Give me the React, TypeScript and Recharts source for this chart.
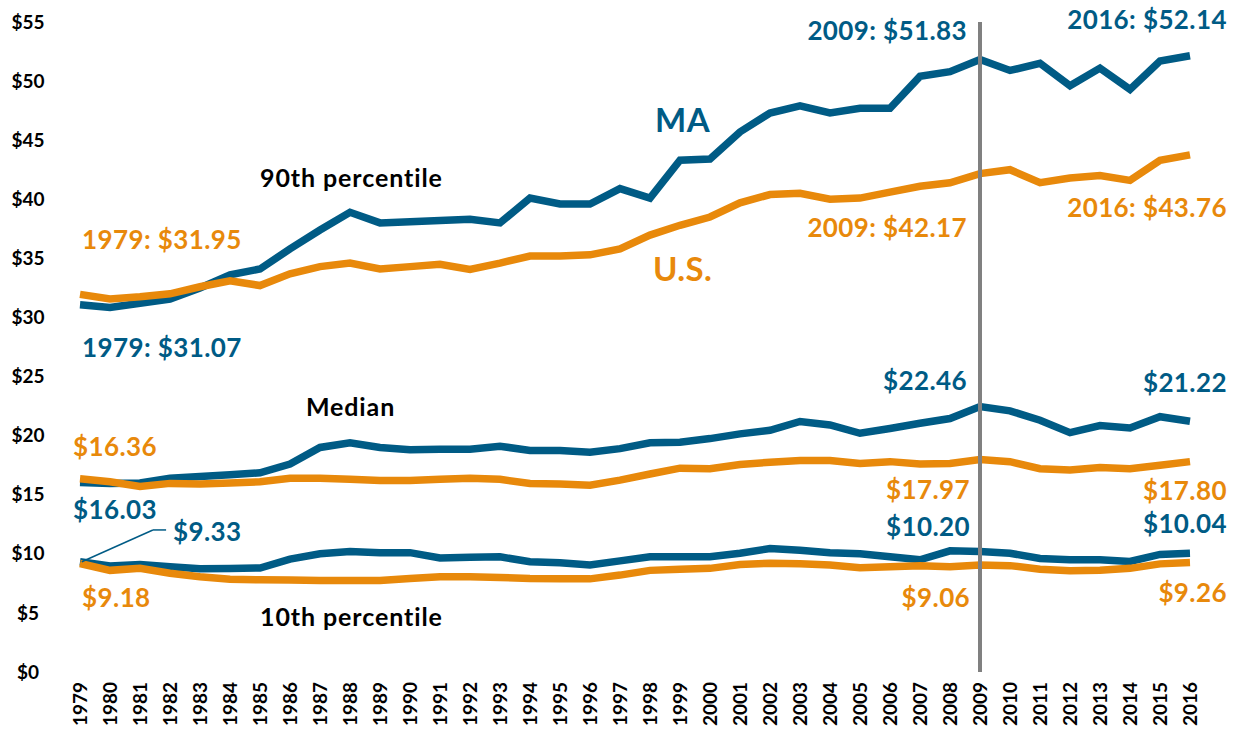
import React from 'react';
import { LineChart, Line, XAxis, YAxis, ReferenceLine, ReferenceDot } from 'recharts';

const years = [
  1979, 1980, 1981, 1982, 1983, 1984, 1985, 1986, 1987, 1988, 1989, 1990, 1991,
  1992, 1993, 1994, 1995, 1996, 1997, 1998, 1999, 2000, 2001, 2002, 2003, 2004,
  2005, 2006, 2007, 2008, 2009, 2010, 2011, 2012, 2013, 2014, 2015, 2016,
];

// hourly wages, MA vs U.S.
const ma90 = [
  31.07, 30.85, 31.2, 31.55, 32.5, 33.6, 34.1, 35.8, 37.4, 38.9, 38.0, 38.1, 38.2,
  38.3, 38.0, 40.1, 39.6, 39.6, 40.9, 40.1, 43.3, 43.4, 45.7, 47.3, 47.9, 47.3,
  47.7, 47.7, 50.4, 50.8, 51.83, 50.9, 51.5, 49.6, 51.1, 49.3, 51.7, 52.14,
];
const us90 = [
  31.95, 31.56, 31.75, 32.0, 32.6, 33.1, 32.7, 33.7, 34.3, 34.6, 34.1, 34.3, 34.5,
  34.07, 34.6, 35.2, 35.2, 35.3, 35.8, 36.97, 37.8, 38.5, 39.7, 40.4, 40.5, 40.0,
  40.1, 40.6, 41.1, 41.4, 42.17, 42.5, 41.4, 41.8, 42.0, 41.6, 43.3, 43.76,
];
const maMedian = [
  16.03, 15.95, 16.0, 16.4, 16.55, 16.7, 16.85, 17.6, 19.0, 19.4, 19.0, 18.8, 18.85,
  18.85, 19.1, 18.75, 18.75, 18.6, 18.9, 19.4, 19.45, 19.75, 20.15, 20.45, 21.2, 20.9,
  20.2, 20.6, 21.05, 21.45, 22.46, 22.1, 21.3, 20.25, 20.85, 20.65, 21.6, 21.22,
];
const usMedian = [
  16.36, 16.1, 15.7, 15.96, 15.9, 16.0, 16.1, 16.4, 16.4, 16.3, 16.2, 16.2, 16.3,
  16.4, 16.3, 15.96, 15.9, 15.8, 16.24, 16.75, 17.25, 17.2, 17.55, 17.75, 17.9, 17.9,
  17.65, 17.8, 17.6, 17.65, 17.97, 17.8, 17.2, 17.1, 17.3, 17.2, 17.5, 17.8,
];
const ma10 = [
  9.33, 8.97, 9.1, 8.9, 8.74, 8.75, 8.8, 9.55, 10.0, 10.2, 10.1, 10.1, 9.65,
  9.7, 9.75, 9.33, 9.25, 9.05, 9.4, 9.75, 9.75, 9.75, 10.05, 10.45, 10.3, 10.1,
  10.0, 9.75, 9.5, 10.25, 10.2, 10.05, 9.6, 9.5, 9.5, 9.35, 9.95, 10.04,
];
const us10 = [
  9.18, 8.6, 8.77, 8.35, 8.06, 7.85, 7.8, 7.78, 7.75, 7.75, 7.75, 7.92, 8.05,
  8.05, 8.0, 7.92, 7.9, 7.88, 8.2, 8.6, 8.7, 8.77, 9.1, 9.2, 9.15, 9.05,
  8.83, 8.9, 9.0, 8.9, 9.06, 9.0, 8.7, 8.57, 8.6, 8.77, 9.15, 9.26,
];

const yTicks = [0, 5, 10, 15, 20, 25, 30, 35, 40, 45, 50, 55];

const BLUE = '#005b85';
const ORANGE = '#e8890b';
const FONT = 'Lato, "Open Sans", sans-serif';

const data = years.map((year, i) => ({
  year,
  ma90: ma90[i],
  us90: us90[i],
  maMedian: maMedian[i],
  usMedian: usMedian[i],
  ma10: ma10[i],
  us10: us10[i],
}));

// text notes, placed in chart coordinates (year, dollars)
const notes = [
  { text: '2009: $51.83', x: 2008.57, y: 53.48, anchor: 'end', color: BLUE, size: 26 },
  { text: '2016: $52.14', x: 2017.23, y: 54.41, anchor: 'end', color: BLUE, size: 26 },
  { text: 'MA', x: 1998.17, y: 45.69, anchor: 'start', color: BLUE, size: 33 },
  { text: '90th percentile', x: 1985.0, y: 41.04, anchor: 'start', color: '#000', size: 25, spacing: 0.9 },
  { text: '1979: $31.95', x: 1979.07, y: 35.79, anchor: 'start', color: ORANGE, size: 26 },
  { text: '2009: $42.17', x: 2008.57, y: 36.81, anchor: 'end', color: ORANGE, size: 26 },
  { text: '2016: $43.76', x: 2017.23, y: 38.5, anchor: 'end', color: ORANGE, size: 26 },
  { text: 'U.S.', x: 1998.1, y: 33.08, anchor: 'start', color: ORANGE, size: 33 },
  { text: '1979: $31.07', x: 1979.07, y: 26.65, anchor: 'start', color: BLUE, size: 26 },
  { text: 'Median', x: 1986.53, y: 21.66, anchor: 'start', color: '#000', size: 25, spacing: 0.9 },
  { text: '$16.36', x: 1978.77, y: 18.28, anchor: 'start', color: ORANGE, size: 26 },
  { text: '$16.03', x: 1978.77, y: 12.95, anchor: 'start', color: BLUE, size: 26 },
  { text: '$9.33', x: 1982.1, y: 11.08, anchor: 'start', color: BLUE, size: 26 },
  { text: '$9.18', x: 1979.07, y: 5.5, anchor: 'start', color: ORANGE, size: 26 },
  { text: '10th percentile', x: 1985.0, y: 3.89, anchor: 'start', color: '#000', size: 25, spacing: 0.9 },
  { text: '$22.46', x: 2008.57, y: 23.86, anchor: 'end', color: BLUE, size: 26 },
  { text: '$21.22', x: 2017.23, y: 23.69, anchor: 'end', color: BLUE, size: 26 },
  { text: '$17.97', x: 2008.67, y: 14.64, anchor: 'end', color: ORANGE, size: 26 },
  { text: '$17.80', x: 2017.23, y: 14.55, anchor: 'end', color: ORANGE, size: 26 },
  { text: '$10.20', x: 2008.67, y: 11.51, anchor: 'end', color: BLUE, size: 26 },
  { text: '$10.04', x: 2017.23, y: 11.76, anchor: 'end', color: BLUE, size: 26 },
  { text: '$9.06', x: 2008.67, y: 5.5, anchor: 'end', color: ORANGE, size: 26 },
  { text: '$9.26', x: 2017.23, y: 5.92, anchor: 'end', color: ORANGE, size: 26 },
];

const YTick = (props: any) => (
  <text x={28} y={props.y} dy="0.35em" textAnchor="middle" fontFamily={FONT} fontWeight={700} fontSize={19} fill="#000">
    {'$' + props.payload.value}
  </text>
);

const XTick = (props: any) => {
  const x = props.x;
  const y = 682;
  return (
    <text
      x={x}
      y={y}
      dy="0.35em"
      textAnchor="end"
      transform={`rotate(-90, ${x}, ${y})`}
      fontFamily={FONT}
      fontWeight={700}
      fontSize={19}
      fill="#000"
    >
      {props.payload.value}
    </text>
  );
};

const noteContent = (n: any) => (props: any) => {
  const vb = props.viewBox || {};
  return (
    <text
      x={vb.x}
      y={vb.y}
      textAnchor={n.anchor}
      fill={n.color}
      fontSize={n.size}
      fontWeight={700}
      fontFamily={FONT}
      letterSpacing={n.spacing ?? 0.4}
    >
      {n.text}
    </text>
  );
};

export default function App() {
  return (
    <div style={{ position: 'absolute', left: 0, top: 0, width: 1237, height: 734, background: '#fff' }}>
      <LineChart width={1237} height={734} data={data} margin={{ top: 22, right: 47, bottom: 0, left: 0 }}>
        <XAxis
          dataKey="year"
          type="number"
          domain={[1979, 2016]}
          ticks={years}
          interval={0}
          height={62}
          axisLine={false}
          tickLine={false}
          tick={<XTick />}
        />
        <YAxis
          domain={[0, 55]}
          ticks={yTicks}
          width={80}
          axisLine={false}
          tickLine={false}
          tick={<YTick />}
        />
        <Line dataKey="ma90" stroke={BLUE} strokeWidth={7.5} dot={false} isAnimationActive={false} />
        <Line dataKey="us90" stroke={ORANGE} strokeWidth={7.5} dot={false} isAnimationActive={false} />
        <Line dataKey="maMedian" stroke={BLUE} strokeWidth={7.5} dot={false} isAnimationActive={false} />
        <Line dataKey="usMedian" stroke={ORANGE} strokeWidth={7.5} dot={false} isAnimationActive={false} />
        <Line dataKey="ma10" stroke={BLUE} strokeWidth={7.5} dot={false} isAnimationActive={false} />
        <Line dataKey="us10" stroke={ORANGE} strokeWidth={7.5} dot={false} isAnimationActive={false} />
        <ReferenceLine x={2009} stroke="#808080" strokeWidth={4} />
        <ReferenceLine
          segment={[{ x: 1979.06, y: 9.33 }, { x: 1981.43, y: 12.02 }]}
          stroke={BLUE}
          strokeWidth={1.5}
          ifOverflow="visible"
        />
        <ReferenceLine
          segment={[{ x: 1981.43, y: 12.02 }, { x: 1981.87, y: 12.02 }]}
          stroke={BLUE}
          strokeWidth={1.5}
          ifOverflow="visible"
        />
        {notes.map((n) => (
          <ReferenceDot
            key={n.text}
            x={n.x}
            y={n.y}
            r={0}
            fill="none"
            stroke="none"
            ifOverflow="visible"
            label={{ content: noteContent(n) }}
          />
        ))}
      </LineChart>
    </div>
  );
}
